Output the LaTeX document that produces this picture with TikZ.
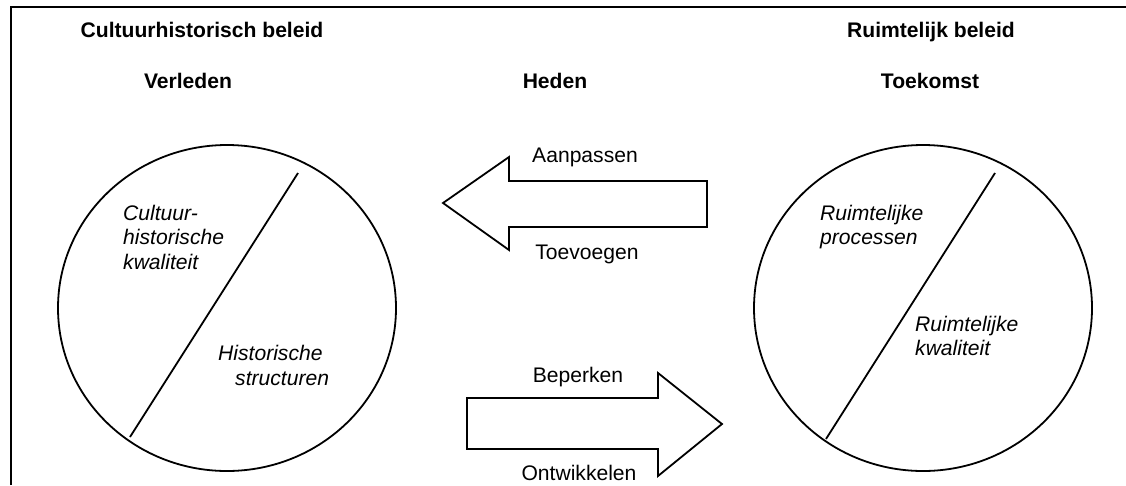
\documentclass[tikz,border=0pt]{standalone}
\usepackage{fontspec}
\setmainfont{Liberation Sans}
\usetikzlibrary{shapes.geometric}
\begin{document}
\begin{tikzpicture}[x=1pt,y=-1pt,
  lbl/.style={inner sep=0pt, text height=15.1pt, text depth=0pt, font=\fontsize{21.1}{24.5}\selectfont},
  hdr/.style={lbl, font=\fontsize{21.1}{24.5}\selectfont\bfseries},
  itl/.style={lbl, anchor=west, font=\fontsize{21.1}{24.5}\selectfont\itshape},
  circ/.style={ellipse, draw, line width=1.8pt, inner sep=0pt, minimum width=338pt, minimum height=326pt},
  arr/.style={draw, line width=1.8pt, line join=miter},
  thin/.style={line width=1.8pt}]
\useasboundingbox (0,0) rectangle (1126,485);
% frame
\coordinate (ftl) at (11,7);
\coordinate (ftr) at (1126,7);
\coordinate (fbl) at (11,485);
\draw[line width=2pt] (fbl) -- (ftl) -- (ftr);
% headers
\node[hdr] (h1) at (202,30) {Cultuurhistorisch beleid};
\node[hdr] (h2) at (931,30) {Ruimtelijk beleid};
\node[hdr] (t1) at (188,81) {Verleden};
\node[hdr] (t2) at (555,81) {Heden};
\node[hdr] (t3) at (930,81) {Toekomst};
% circles
\node[circ] (cl) at (227,308) {};
\node[circ] (cr) at (923,308) {};
\coordinate (la) at (298,173);
\coordinate (lb) at (130,437);
\coordinate (ra) at (995,173);
\coordinate (rb) at (826,439);
\draw[thin] (la) -- (lb);
\draw[thin] (ra) -- (rb);
% circle texts
\node[itl] (c1) at (123,213) {Cultuur-};
\node[itl] (c2) at (123,237) {historische};
\node[itl] (c3) at (123,262) {kwaliteit};
\node[itl] (c4) at (218,353) {Historische};
\node[itl] (c5) at (235,378) {structuren};
\node[itl] (r1) at (820,213) {Ruimtelijke};
\node[itl] (r2) at (820,237) {processen};
\node[itl] (r3) at (915,324) {Ruimtelijke};
\node[itl] (r4) at (915,348) {kwaliteit};
% left arrow
\draw[arr] (443,203) -- (509,157) -- (509,181) -- (707,181) -- (707,227) -- (509,227) -- (509,250) -- cycle;
\node[lbl] (a1) at (585,155) {Aanpassen};
\node[lbl] (a2) at (587,252) {Toevoegen};
% right arrow
\draw[arr] (722,424) -- (658,373) -- (658,398) -- (467,398) -- (467,449) -- (658,449) -- (658,476) -- cycle;
\node[lbl] (b1) at (578,375) {Beperken};
\node[lbl] (b2) at (579,473) {Ontwikkelen};
\end{tikzpicture}
\end{document}
